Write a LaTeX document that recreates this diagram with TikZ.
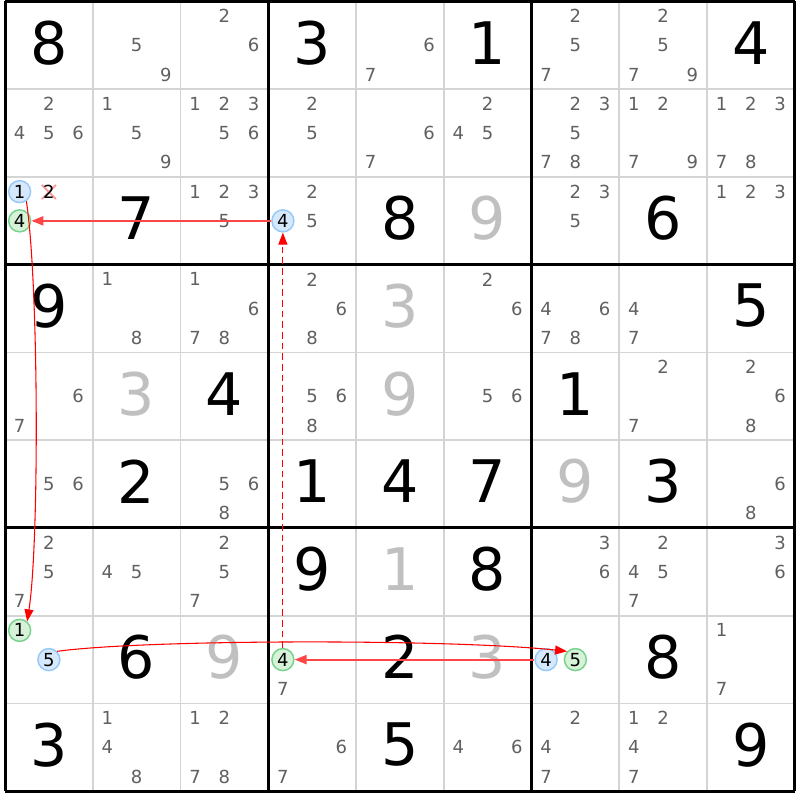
\documentclass[tikz,border=0pt]{standalone}
\usepackage{fontspec}
\setmainfont{DejaVu Sans}
\usetikzlibrary{arrows.meta}
\definecolor{candgray}{RGB}{96,96,96}
\definecolor{solvedgray}{RGB}{192,192,192}
\definecolor{gridgray}{RGB}{212,212,212}
\definecolor{bluefill}{RGB}{214,233,252}
\definecolor{blueline}{RGB}{150,200,250}
\definecolor{greenfill}{RGB}{214,242,216}
\definecolor{greenline}{RGB}{120,210,140}
\definecolor{crossred}{RGB}{250,150,150}
\definecolor{linkred}{RGB}{255,70,70}
\tikzset{
  given/.style={font=\fontsize{44}{44}\selectfont,text=black,inner sep=0pt,yshift=2pt},
  solved/.style={given,text=solvedgray},
  cand/.style={font=\fontsize{13.5}{13.5}\selectfont,text=candgray,inner sep=0pt},
  marked/.style={cand,text=black,circle,minimum size=16.5pt,line width=1.1pt},
  bluecand/.style={marked,fill=bluefill,draw=blueline},
  greencand/.style={marked,fill=greenfill,draw=greenline},
  link/.style={draw=red,line width=0.8pt},
  thicklink/.style={draw=linkred,line width=1.5pt}
}
\begin{document}
\begin{tikzpicture}[x=65.81pt,y=-65.81pt,>={Triangle[length=9pt,width=6.75pt]}]
\fill[white] (-0.057,-0.017) rectangle (9.060,9.100);
\useasboundingbox (-0.057,-0.017) rectangle (9.060,9.100);
\foreach \i in {1,2,4,5,7,8} {
  \draw[gridgray,line width=1.2pt] (\i,0) -- (\i,9);
  \draw[gridgray,line width=1.2pt] (0,\i) -- (9,\i);
}
\foreach \i in {0,3,6,9} {
  \draw[black,line width=2.25pt] (\i,0) -- (\i,9);
  \draw[black,line width=2.25pt] (0,\i) -- (9,\i);
}
\foreach \r/\c/\d in {1/1/8,1/4/3,1/6/1,1/9/4,3/2/7,3/5/8,3/8/6,4/1/9,4/9/5,
    5/3/4,5/7/1,6/2/2,6/4/1,6/5/4,6/6/7,6/8/3,7/4/9,7/6/8,8/2/6,8/5/2,8/8/8,
    9/1/3,9/5/5,9/9/9}
  \node[given] at (\c-0.5,\r-0.5) {\d};
\foreach \r/\c/\d in {3/6/9,4/5/3,5/2/3,5/5/9,6/7/9,7/5/1,8/3/9,8/6/3}
  \node[solved] at (\c-0.5,\r-0.5) {\d};
\foreach \r/\c/\ds in {1/2/{5,9},1/3/{2,6},1/5/{6,7},1/7/{2,5,7},1/8/{2,5,7,9},
    2/1/{2,4,5,6},2/2/{1,5,9},2/3/{1,2,3,5,6},2/4/{2,5},2/5/{6,7},2/6/{2,4,5},
    2/7/{2,3,5,7,8},2/8/{1,2,7,9},2/9/{1,2,3,7,8},
    3/3/{1,2,3,5},3/4/{2,5},3/7/{2,3,5},3/9/{1,2,3},
    4/2/{1,8},4/3/{1,6,7,8},4/4/{2,6,8},4/6/{2,6},4/7/{4,6,7,8},4/8/{4,7},
    5/1/{6,7},5/4/{5,6,8},5/6/{5,6},5/8/{2,7},5/9/{2,6,8},
    6/1/{5,6},6/3/{5,6,8},6/9/{6,8},
    7/1/{2,5,7},7/2/{4,5},7/3/{2,5,7},7/7/{3,6},7/8/{2,4,5,7},7/9/{3,6},
    8/4/{7},8/9/{1,7},
    9/2/{1,4,8},9/3/{1,2,7,8},9/4/{6,7},9/6/{4,6},9/7/{2,4,7},9/8/{1,2,4,7}}
  \foreach \d in \ds {
    \pgfmathtruncatemacro\px{mod(\d-1,3)}
    \pgfmathtruncatemacro\py{div(\d-1,3)}
    \node[cand] at ({\c-1+(\px+0.5)/3},{\r-1+(\py+0.5)/3}) {\d};
  }
\draw[crossred,line width=1.3pt] (0.42,2.09) -- (0.58,2.25) (0.42,2.25) -- (0.58,2.09);
\node[cand,text=black] (r3c1n2) at (0.5,2.1667) {2};
\node[bluecand] (r3c1n1) at (0.1667,2.1667) {1};
\node[greencand] (r3c1n4) at (0.1667,2.5) {4};
\node[bluecand] (r3c4n4) at (3.1667,2.5) {4};
\node[greencand] (r8c1n1) at (0.1667,7.1667) {1};
\node[bluecand] (r8c1n5) at (0.5,7.5) {5};
\node[greencand] (r8c4n4) at (3.1667,7.5) {4};
\node[bluecand] (r8c7n4) at (6.1667,7.5) {4};
\node[greencand] (r8c7n5) at (6.5,7.5) {5};
\path[->] (r3c4n4) edge[thicklink] (r3c1n4)
          (r8c7n4) edge[thicklink] (r8c4n4)
          (r8c4n4) edge[link,dashed,dash pattern=on 5pt off 3pt] (r3c4n4);
\draw[link,->] (r3c1n1.-55) .. controls +(0.14,0.9) and +(0.14,-0.9) .. (r8c1n1.50);
\draw[link,->] (r8c1n5.45) .. controls +(1.04,-0.14) and +(-1.3,-0.14) .. (r8c7n5.135);
\end{tikzpicture}
\end{document}
